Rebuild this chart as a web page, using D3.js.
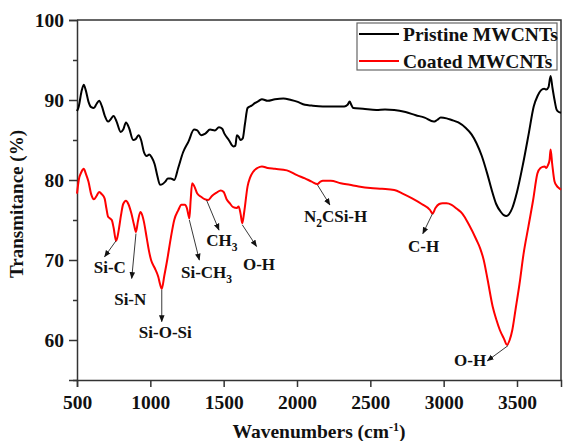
<!DOCTYPE html>
<html>
<head>
<meta charset="utf-8">
<script src="https://cdn.jsdelivr.net/npm/d3@7"></script>
<style>
  body { margin: 0; background: #fff; }
  svg text { font-family: "Liberation Serif", "Times New Roman", serif; font-weight: bold; fill: #111; }
</style>
</head>
<body>
<svg id="chart" width="563" height="441"></svg>
<script>
// spectra (wavenumber in cm-1, transmittance in %)
var pristineWn = [500, 512, 530, 546, 560, 578, 597, 615, 633, 651, 670, 690, 712, 730, 749, 770, 798, 815, 834, 855,
  883, 900, 919, 937, 956, 975, 993, 1010, 1029, 1048, 1066, 1084, 1102, 1120, 1139, 1163, 1190, 1224, 1260, 1298,
  1320, 1346, 1375, 1407, 1440, 1468, 1490, 1505, 1535, 1566, 1580, 1590, 1603, 1615, 1630, 1645, 1663, 1690, 1712, 1740,
  1761, 1800, 1850, 1907, 1960, 2000, 2054, 2100, 2176, 2250, 2322, 2345, 2359, 2370, 2383, 2450, 2541, 2600, 2663, 2740,
  2810, 2870, 2932, 2955, 2980, 3020, 3054, 3100, 3151, 3190, 3224, 3260, 3297, 3330, 3358, 3390, 3410, 3427, 3445, 3468,
  3500, 3541, 3580, 3614, 3640, 3663, 3685, 3700, 3715, 3729, 3742, 3756, 3770, 3785, 3800];
var pristineT = [88.6, 89.2, 91.0, 91.9, 91.2, 89.8, 89.1, 89.0, 89.5, 89.9, 89.2, 88.0, 87.3, 87.6, 88.0, 87.3, 86.0, 86.3, 87.2, 86.5,
  85.0, 85.1, 85.6, 85.0, 83.5, 83.0, 83.2, 82.8, 82.0, 80.5, 79.4, 79.5, 79.8, 80.2, 80.2, 80.0, 81.5, 83.5, 84.8, 86.3,
  86.2, 85.6, 85.8, 86.3, 86.2, 86.6, 86.4, 85.8, 85.0, 84.2, 84.3, 85.6, 85.4, 85.0, 85.2, 87.0, 89.0, 89.3, 89.6, 89.9,
  90.1, 89.9, 90.1, 90.2, 90.0, 89.8, 89.4, 89.3, 89.2, 89.2, 89.2, 89.4, 89.8, 89.4, 89.0, 88.9, 88.75, 88.8, 88.75, 88.5,
  88.1, 87.8, 87.3, 87.5, 87.8, 87.7, 87.5, 87.2, 86.5, 85.7, 84.6, 83.0, 80.8, 78.6, 77.0, 76.0, 75.6, 75.5, 75.7, 76.5,
  78.5, 82.0, 85.8, 89.2, 90.5, 91.2, 91.4, 91.3, 91.6, 93.0, 91.5, 90.0, 88.8, 88.5, 88.4];

var coatedWn = [500, 512, 530, 546, 560, 578, 597, 615, 633, 651, 670, 688, 700, 712, 725, 737, 750, 766, 775, 785,
  800, 815, 834, 850, 871, 890, 902, 915, 932, 945, 956, 975, 990, 1005, 1030, 1054, 1066, 1078, 1095, 1115,
  1140, 1163, 1190, 1212, 1235, 1249, 1260, 1266, 1275, 1285, 1300, 1320, 1346, 1370, 1395, 1420, 1450, 1480, 1500, 1520,
  1541, 1565, 1590, 1602, 1615, 1627, 1640, 1663, 1680, 1700, 1730, 1761, 1800, 1850, 1931, 2000, 2054, 2100, 2139, 2160,
  2176, 2230, 2298, 2360, 2420, 2500, 2580, 2663, 2720, 2785, 2850, 2907, 2924, 2944, 2970, 2993, 3020, 3054, 3090, 3127,
  3170, 3224, 3250, 3273, 3300, 3334, 3360, 3383, 3410, 3432, 3450, 3468, 3490, 3517, 3545, 3578, 3610, 3639, 3660, 3688,
  3700, 3712, 3722, 3729, 3740, 3756, 3770, 3785, 3800];
var coatedT = [78.3, 80.0, 81.0, 81.4, 80.8, 79.8, 78.2, 77.6, 78.0, 78.5, 78.2, 77.7, 76.5, 75.4, 75.2, 75.0, 74.0, 72.4, 72.8, 73.8,
  75.6, 77.0, 77.4, 77.0, 75.8, 74.3, 73.5, 74.8, 76.0, 75.6, 74.8, 72.8, 71.2, 70.0, 69.0, 67.9, 67.0, 66.4, 68.0, 70.0,
  72.8, 75.0, 76.2, 76.9, 76.9, 76.5, 75.6, 75.2, 77.5, 79.6, 79.2, 78.3, 77.9, 77.6, 77.5, 78.0, 78.4, 78.7, 78.5, 77.6,
  77.1, 76.6, 76.5, 76.7, 75.8, 74.6, 76.0, 79.2, 80.3, 81.0, 81.5, 81.7, 81.5, 81.4, 81.2, 80.6, 80.2, 79.8, 79.5, 79.8,
  79.9, 79.9, 79.6, 79.4, 79.2, 79.0, 78.9, 78.75, 78.3, 77.7, 77.0, 76.25, 75.8, 76.5, 77.0, 77.1, 77.1, 76.9, 76.4, 75.8,
  74.5, 72.5, 71.4, 70.0, 67.5, 64.2, 62.5, 61.25, 60.2, 59.4, 60.0, 61.25, 63.8, 67.0, 70.8, 74.2, 77.5, 80.8, 81.5, 81.7,
  81.5, 81.9, 82.5, 83.8, 82.0, 79.8, 79.3, 79.0, 78.8];

var seriesNames = ["Pristine MWCNTs", "Coated MWCNTs"];
var seriesColors = ["#000000", "#ff0000"];

var xTicks = [500, 1000, 1500, 2000, 2500, 3000, 3500];
var yTicks = [60, 70, 80, 90, 100];
var yMinorTicks = [55, 65, 75, 85, 95];

// band annotations: label text parts, arrow tail/head and label spot in data units
var bandLabels = [
  { parts: [["Si-C", ""]], from: [766, 72.4], to: [688, 70.4], at: [724, 68.4] },
  { parts: [["Si-N", ""]], from: [902, 73.3], to: [873, 67.7], at: [863, 64.4] },
  { parts: [["Si-O-Si", ""]], from: [1078, 66.3], to: [1078, 62.3], at: [1102, 60.3] },
  { parts: [["Si-CH", ""], ["3", "sub"]], from: [1266, 75.0], to: [1334, 70.0], at: [1383, 67.7] },
  { parts: [["CH", ""], ["3", "sub"]], from: [1383, 77.5], to: [1468, 73.75], at: [1488, 71.8] },
  { parts: [["O-H", ""]], from: [1627, 74.4], to: [1724, 71.7], at: [1741, 68.7] },
  { parts: [["N", ""], ["2", "sub"], ["CSi-H", ""]], from: [2139, 79.4], to: [2224, 76.9], at: [2263, 74.7] },
  { parts: [["C-H", ""]], from: [2924, 75.8], to: [2858, 73.3], at: [2863, 71.0] },
  { parts: [["O-H", ""]], from: [3439, 59.3], to: [3298, 57.4], at: [3180, 56.75] }
];

var margin = { top: 20, right: 2, bottom: 61, left: 77 },
  width = 563 - margin.left - margin.right,
  height = 441 - margin.top - margin.bottom;

var svg = d3.select("#chart");
var g = svg.append("g").attr("transform", "translate(" + margin.left + "," + margin.top + ")");

var x = d3.scaleLinear().domain([500, 3800]).range([0, width]);
var y = d3.scaleLinear().domain([55, 100]).range([height, 0]);

// arrow head
svg.append("defs").append("marker")
  .attr("id", "head")
  .attr("viewBox", "0 0 10 10")
  .attr("refX", 9).attr("refY", 5)
  .attr("markerWidth", 7).attr("markerHeight", 7)
  .attr("markerUnits", "userSpaceOnUse")
  .attr("orient", "auto")
  .append("path").attr("d", "M0,1 L10,5 L0,9 Z").attr("fill", "#111");

// frame (top and right)
g.append("path")
  .attr("d", "M0,0 H" + width + " V" + height)
  .attr("fill", "none").attr("stroke", "#333").attr("stroke-width", 1.5);

// axes
var xAxis = g.append("g")
  .attr("transform", "translate(0," + height + ")")
  .call(d3.axisBottom(x).tickValues(xTicks).tickSize(7).tickPadding(5).tickFormat(d3.format("d")));

var yAxis = g.append("g")
  .call(d3.axisLeft(y).tickValues(yTicks).tickSize(8).tickPadding(5).tickFormat(d3.format("d")));

g.append("g")
  .call(d3.axisLeft(y).tickValues(yMinorTicks).tickSize(4).tickFormat(""))
  .select(".domain").remove();

g.selectAll(".domain").attr("stroke", "#333").attr("stroke-width", 1.5);
g.selectAll(".tick line").attr("stroke", "#333").attr("stroke-width", 1.5);
g.selectAll(".tick text")
  .style("font-family", "'Liberation Serif', 'Times New Roman', serif")
  .style("font-weight", "bold")
  .style("font-size", "19.5px")
  .attr("fill", "#111");
xAxis.selectAll(".tick text").attr("dy", "0.85em");

// axis titles
svg.append("text")
  .attr("transform", "translate(23," + (margin.top + height / 2 + 4) + ") rotate(-90)")
  .attr("text-anchor", "middle")
  .style("font-size", "19px")
  .text("Transmitance (%)");

var xTitle = svg.append("text")
  .attr("x", margin.left + width / 2)
  .attr("y", 438)
  .attr("text-anchor", "middle")
  .style("font-size", "19.5px");
xTitle.append("tspan").text("Wavenumbers (cm");
xTitle.append("tspan").attr("dy", -7).style("font-size", "12px").text("-1");
xTitle.append("tspan").attr("dy", 7).text(")");

// lines
var line = d3.line()
  .x(function(d) { return x(d[0]); })
  .y(function(d) { return y(d[1]); })
  .curve(d3.curveMonotoneX);

var series = [
  d3.zip(pristineWn, pristineT),
  d3.zip(coatedWn, coatedT)
];

g.selectAll(".spectrum")
  .data(series)
  .enter()
  .append("path")
  .attr("class", "spectrum")
  .attr("d", line)
  .attr("fill", "none")
  .attr("stroke", function(d, i) { return seriesColors[i]; })
  .attr("stroke-width", 2)
  .attr("stroke-linejoin", "round");

// annotations
bandLabels.forEach(function(b) {
  g.append("line")
    .attr("x1", x(b.from[0])).attr("y1", y(b.from[1]))
    .attr("x2", x(b.to[0])).attr("y2", y(b.to[1]))
    .attr("stroke", "#222").attr("stroke-width", 0.9)
    .attr("marker-end", "url(#head)");

  var t = g.append("text")
    .attr("x", x(b.at[0])).attr("y", y(b.at[1]))
    .attr("text-anchor", "middle")
    .style("font-size", "17px");
  var shift = 0;
  b.parts.forEach(function(p) {
    var s = t.append("tspan").text(p[0]);
    if (p[1] === "sub") {
      s.attr("dy", 5 - shift).style("font-size", "11.5px");
      shift = 5;
    } else if (shift) {
      s.attr("dy", -shift);
      shift = 0;
    }
  });
});

// legend
var legend = svg.append("g").attr("transform", "translate(357,23)");
legend.append("rect")
  .attr("width", 200).attr("height", 47)
  .attr("fill", "#fff").attr("stroke", "#666").attr("stroke-width", 1.2);

seriesNames.forEach(function(name, i) {
  var ly = 11 + i * 27;
  legend.append("line")
    .attr("x1", 2).attr("x2", 42)
    .attr("y1", ly).attr("y2", ly)
    .attr("stroke", seriesColors[i]).attr("stroke-width", 2);
  legend.append("text")
    .attr("x", 46).attr("y", ly + 6.5)
    .style("font-size", "19.5px")
    .text(name);
});
</script>
</body>
</html>
